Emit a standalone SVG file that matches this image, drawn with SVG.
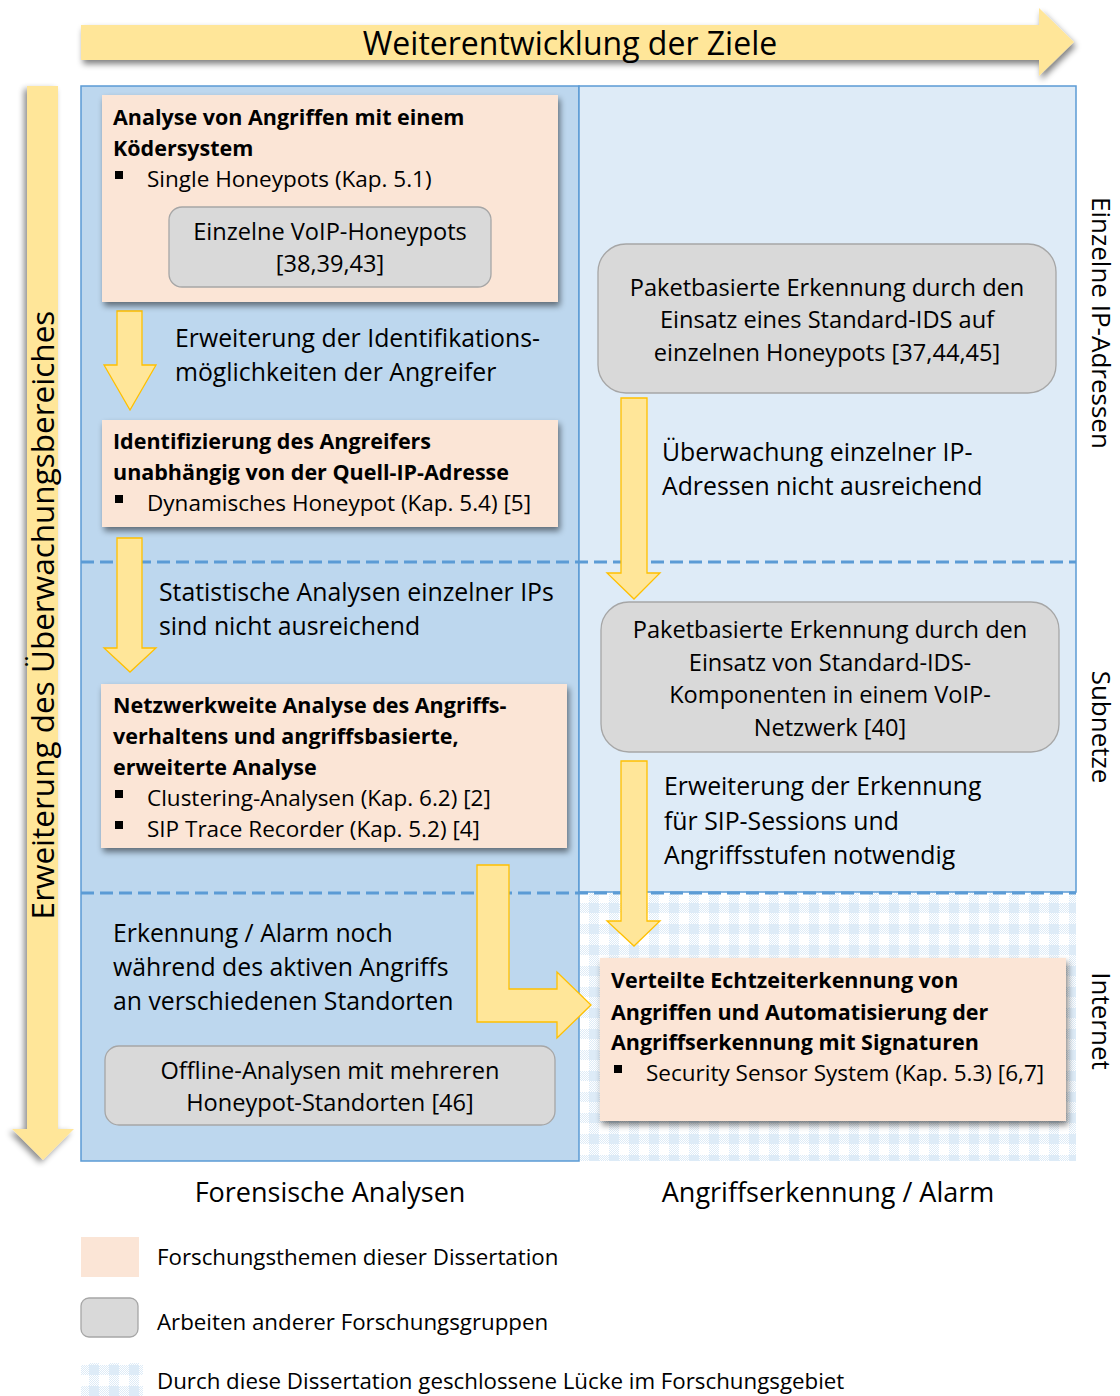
<svg xmlns="http://www.w3.org/2000/svg" width="1120" height="1396" viewBox="0 0 1120 1396">
  <style>
    text { font-family: "Open Sans", "Noto Sans", "Liberation Sans", sans-serif; fill: #000; }
    .b { font-weight: bold; font-size: 21.5px; }
    .n { font-size: 22.5px; }
    .lbl { font-size: 24.8px; }
    .g { font-size: 23.6px; text-anchor: middle; }
    .col { font-size: 27px; text-anchor: middle; }
    .side { font-size: 26px; text-anchor: middle; }
    .leg { font-size: 22.3px; }
    .peach { fill: #FBE5D6; filter: url(#sh); }
    .grey { fill: #D9D9D9; stroke: #A6A6A6; stroke-width: 1.3; }
    .flow { fill: #FFE699; stroke: #FFC000; stroke-width: 1.3; }
    .dash { stroke: #5B9BD5; stroke-width: 3; stroke-dasharray: 13 6; fill: none; }
  </style>
  <defs>
    <filter id="sh" x="-10%" y="-10%" width="125%" height="130%">
      <feGaussianBlur in="SourceAlpha" stdDeviation="3"/>
      <feOffset dx="2" dy="4" result="b"/>
      <feComponentTransfer><feFuncA type="linear" slope="0.5"/></feComponentTransfer>
      <feMerge><feMergeNode/><feMergeNode in="SourceGraphic"/></feMerge>
    </filter>
    <filter id="shL" x="-30%" y="-5%" width="160%" height="110%">
      <feGaussianBlur in="SourceAlpha" stdDeviation="3"/>
      <feOffset dx="-3" dy="3" result="b"/>
      <feComponentTransfer><feFuncA type="linear" slope="0.45"/></feComponentTransfer>
      <feMerge><feMergeNode/><feMergeNode in="SourceGraphic"/></feMerge>
    </filter>
    <pattern id="dith" width="2" height="2" patternUnits="userSpaceOnUse">
      <rect width="2" height="2" fill="#fff"/>
      <rect width="1" height="1" fill="#DDEBF7"/>
      <rect x="1" y="1" width="1" height="1" fill="#DDEBF7"/>
    </pattern>
    <pattern id="gap" x="579" y="892" width="20" height="21" patternUnits="userSpaceOnUse">
      <rect width="20" height="21" fill="#fff"/>
      <rect x="10" width="10" height="21" fill="url(#dith)"/>
      <rect y="11" width="20" height="10" fill="url(#dith)"/>
      <rect x="10" y="11" width="10" height="10" fill="#DDEBF7"/>
    </pattern>
  </defs>

  <!-- direction arrows -->
  <g id="goal-arrow">
    <path d="M81,25 H1039 V8 L1074,42 L1039,76 V60 H81 Z" fill="#FFE699" filter="url(#sh)"/>
    <text x="570" y="55" font-size="32" text-anchor="middle">Weiterentwicklung der Ziele</text>
  </g>
  <g id="scope-arrow">
    <path d="M27,86 H58 V1129 H74 L43,1160 L12,1129 H27 Z" fill="#FFE699" filter="url(#shL)"/>
    <text transform="translate(54,615) rotate(-90)" font-size="31.5" text-anchor="middle">Erweiterung des Überwachungsbereiches</text>
  </g>

  <!-- columns -->
  <g id="columns">
    <rect x="81" y="86" width="498" height="1075" fill="#BDD7EE" stroke="#5B9BD5" stroke-width="1.5"/>
    <rect x="579" y="86" width="497" height="806" fill="#DEEBF7" stroke="#5B9BD5" stroke-width="1.5"/>
    <rect x="580" y="893" width="496" height="268" fill="url(#gap)"/>
    <line class="dash" x1="81" y1="562" x2="1076" y2="562"/>
    <line class="dash" x1="81" y1="893" x2="1076" y2="893"/>
  </g>

  <g id="scope-labels">
    <text class="side" transform="translate(1092,323) rotate(90)">Einzelne IP-Adressen</text>
    <text class="side" transform="translate(1092,727) rotate(90)">Subnetze</text>
    <text class="side" transform="translate(1092,1021) rotate(90)">Internet</text>
  </g>

  <!-- connectors -->
  <g id="connectors">
    <path class="flow" d="M117,311 H142 V365 H156 L130,410 L104,365 H117 Z"/>
    <path class="flow" d="M117,538 H142 V648 H156 L130,672 L104,648 H117 Z"/>
    <path class="flow" d="M477,865 H509 V989 H557 V972 L591,1005 L557,1038 V1022 H477 Z"/>
    <path class="flow" d="M621,398 H647 V573 H660 L634,599 L607,573 H621 Z"/>
    <path class="flow" d="M621,761 H647 V921 H660 L634,946 L607,921 H621 Z"/>
    <text class="lbl" x="175" y="347">Erweiterung der Identifikations-</text>
    <text class="lbl" x="175" y="381">möglichkeiten der Angreifer</text>
    <text class="lbl" x="159" y="601">Statistische Analysen einzelner IPs</text>
    <text class="lbl" x="159" y="635">sind nicht ausreichend</text>
    <text class="lbl" x="662" y="461">Überwachung einzelner IP-</text>
    <text class="lbl" x="662" y="495">Adressen nicht ausreichend</text>
    <text class="lbl" x="664" y="795">Erweiterung der Erkennung</text>
    <text class="lbl" x="664" y="830">für SIP-Sessions und</text>
    <text class="lbl" x="664" y="864">Angriffsstufen notwendig</text>
  </g>

  <!-- nodes -->
  <g id="honeypot-analysis">
    <rect class="peach" x="102" y="95" width="456" height="207"/>
    <text class="b" x="113" y="125">Analyse von Angriffen mit einem</text>
    <text class="b" x="113" y="156">Ködersystem</text>
    <rect x="115" y="171" width="8" height="8"/>
    <text class="n" x="147" y="187">Single Honeypots (Kap. 5.1)</text>
  </g>
  <g id="voip-honeypots">
    <rect class="grey" x="169" y="207" width="322" height="80" rx="13"/>
    <text class="g" x="330" y="240">Einzelne VoIP-Honeypots</text>
    <text class="g" x="330" y="272">[38,39,43]</text>
  </g>
  <g id="attacker-identification">
    <rect class="peach" x="102" y="420" width="456" height="107"/>
    <text class="b" x="113" y="449">Identifizierung des Angreifers</text>
    <text class="b" x="113" y="480">unabhängig von der Quell-IP-Adresse</text>
    <rect x="115" y="495" width="8" height="8"/>
    <text class="n" x="147" y="511">Dynamisches Honeypot (Kap. 5.4) [5]</text>
  </g>
  <g id="network-analysis">
    <rect class="peach" x="101" y="684" width="466" height="164"/>
    <text class="b" x="113" y="713">Netzwerkweite Analyse des Angriffs-</text>
    <text class="b" x="113" y="744">verhaltens und angriffsbasierte,</text>
    <text class="b" x="113" y="775">erweiterte Analyse</text>
    <rect x="115" y="790" width="8" height="8"/>
    <text class="n" x="147" y="806">Clustering-Analysen (Kap. 6.2) [2]</text>
    <rect x="115" y="821" width="8" height="8"/>
    <text class="n" x="147" y="837">SIP Trace Recorder (Kap. 5.2) [4]</text>
  </g>
  <g id="distributed-alarm-note">
    <text class="lbl" x="113" y="942">Erkennung / Alarm noch</text>
    <text class="lbl" x="113" y="976">während des aktiven Angriffs</text>
    <text class="lbl" x="113" y="1010">an verschiedenen Standorten</text>
  </g>
  <g id="offline-analysis">
    <rect class="grey" x="105" y="1046" width="450" height="79" rx="14"/>
    <text class="g" x="330" y="1079">Offline-Analysen mit mehreren</text>
    <text class="g" x="330" y="1111">Honeypot-Standorten [46]</text>
  </g>
  <g id="ids-single">
    <rect class="grey" x="598" y="244" width="458" height="149" rx="28"/>
    <text class="g" x="827" y="296">Paketbasierte Erkennung durch den</text>
    <text class="g" x="827" y="328">Einsatz eines Standard-IDS auf</text>
    <text class="g" x="827" y="361">einzelnen Honeypots [37,44,45]</text>
  </g>
  <g id="ids-network">
    <rect class="grey" x="601" y="602" width="458" height="150" rx="28"/>
    <text class="g" x="830" y="638">Paketbasierte Erkennung durch den</text>
    <text class="g" x="830" y="671">Einsatz von Standard-IDS-</text>
    <text class="g" x="830" y="703">Komponenten in einem VoIP-</text>
    <text class="g" x="830" y="736">Netzwerk [40]</text>
  </g>
  <g id="realtime-detection">
    <rect class="peach" x="600" y="958" width="466" height="163"/>
    <text class="b" x="611" y="988">Verteilte Echtzeiterkennung von</text>
    <text class="b" x="611" y="1020">Angriffen und Automatisierung der</text>
    <text class="b" x="611" y="1050">Angriffserkennung mit Signaturen</text>
    <rect x="614" y="1065" width="8" height="8"/>
    <text class="n" x="646" y="1081">Security Sensor System (Kap. 5.3) [6,7]</text>
  </g>

  <g id="column-titles">
    <text class="col" x="330" y="1202">Forensische Analysen</text>
    <text class="col" x="828" y="1202">Angriffserkennung / Alarm</text>
  </g>

  <!-- legend -->
  <g id="legend">
    <rect x="81" y="1237" width="58" height="40" fill="#FBE5D6"/>
    <text class="leg" x="157" y="1265">Forschungsthemen dieser Dissertation</text>
    <rect x="81" y="1298" width="57" height="39" rx="8" class="grey"/>
    <text class="leg" x="157" y="1330">Arbeiten anderer Forschungsgruppen</text>
    <rect x="81" y="1363" width="62" height="33" fill="url(#gap)"/>
    <text class="leg" x="157" y="1389">Durch diese Dissertation geschlossene Lücke im Forschungsgebiet</text>
  </g>
</svg>
